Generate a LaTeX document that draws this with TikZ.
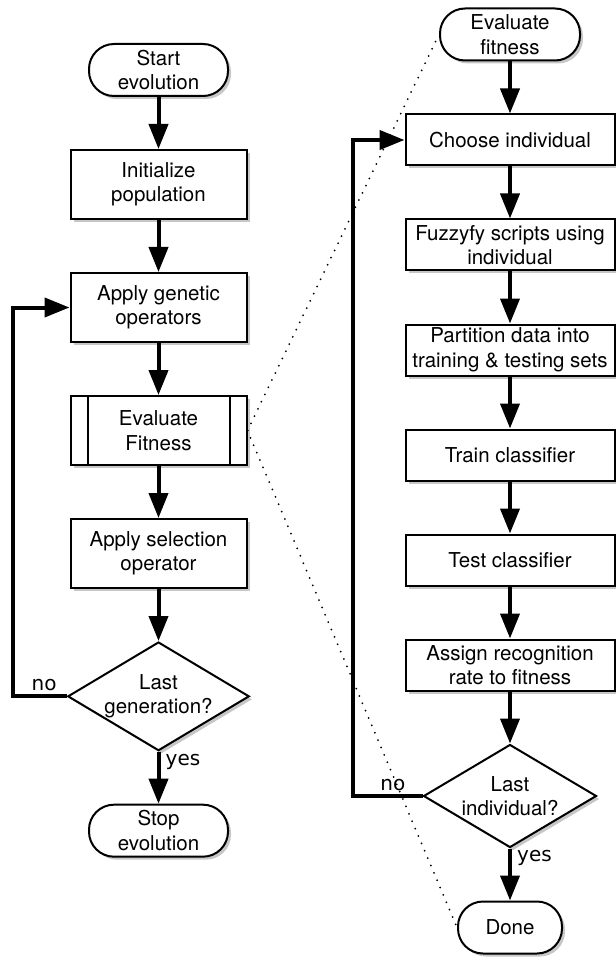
\documentclass[tikz,border=0pt]{standalone}
\usepackage{fontspec}
\setmainfont{TeX Gyre Heros}
\newfontfamily\labelfont{DejaVu Sans}
\usetikzlibrary{shapes.geometric,arrows.meta,positioning,calc,shadows}

\begin{document}
\begin{tikzpicture}[
            x=1pt, y=1pt,
            font=\fontsize{20.5}{24.5}\selectfont,
            boxshadow/.style={drop shadow={shadow xshift=3pt, shadow yshift=-3pt, opacity=0.22, fill=black}},
            procbox/.style={draw, rectangle, line width=2pt, fill=white, align=center, minimum width=176pt, minimum height=69pt, inner sep=2pt, boxshadow},
            stepbox/.style={draw, rectangle, line width=2pt, fill=white, align=center, minimum width=209pt, minimum height=51pt, inner sep=2pt, boxshadow},
            termbox/.style={draw, rectangle, rounded corners=25pt, line width=2pt, fill=white, align=center, minimum width=139pt, minimum height=52pt, inner sep=2pt, boxshadow},
            decbox/.style={draw, diamond, aspect=1.67, line width=2pt, fill=white, align=center, minimum width=173pt, minimum height=103pt, inner sep=0pt, boxshadow},
            flow/.style={-{Triangle[width=19pt,length=25pt]}, line width=4pt},
            detailline/.style={line width=2pt, dash pattern=on 0pt off 8pt, line cap=round},
            answer/.style={inner sep=0pt, font=\labelfont\fontsize{20}{24}\selectfont},
            node distance=52pt
        ]
            \useasboundingbox (0,0) rectangle (615,-957);

            % main loop
            \node[termbox] (start) at (158.5,-70) {Start\\evolution};
            \node[procbox, below=of start] (init) {Initialize\\population};
            \node[procbox, below=of init] (apply) {Apply genetic\\operators};
            \node[procbox, below=of apply] (evalG) {Evaluate\\Fitness};
            \node[procbox, below=of evalG] (select) {Apply selection\\operator};
            \node[decbox, below=of select] (diaG) {Last\\generation?};
            \node[termbox, below=of diaG] (stop) {Stop\\evolution};
            \draw[line width=2pt] ($(evalG.north west)+(18,0)$) -- ($(evalG.south west)+(18,0)$);
            \draw[line width=2pt] ($(evalG.north east)+(-18,0)$) -- ($(evalG.south east)+(-18,0)$);

            % fitness evaluation
            \node[termbox, minimum width=140pt] (evalR) at (510,-34.5) {Evaluate\\fitness};
            \node[stepbox, below=of evalR] (choose) {Choose individual};
            \node[stepbox, below=of choose] (fuzzy) {Fuzzyfy scripts using\\individual};
            \node[stepbox, below=of fuzzy] (part) {Partition data into\\training \& testing sets};
            \node[stepbox, below=of part] (train) {Train classifier};
            \node[stepbox, below=of train] (test) {Test classifier};
            \node[stepbox, below=of test] (assign) {Assign recognition\\rate to fitness};
            \node[decbox, below=of assign] (diaI) {Last\\individual?};
            \node[termbox, minimum width=104pt, below=of diaI] (done) {Done};

            \draw[detailline] (evalG.east) -- (evalR.west);
            \draw[detailline] (evalG.east) -- (done.west);

            \draw[flow] (start) -- (init);
            \draw[flow] (init) -- (apply);
            \draw[flow] (apply) -- (evalG);
            \draw[flow] (evalG) -- (select);
            \draw[flow] (select) -- (diaG);
            \draw[flow] (diaG) -- (stop);
            \draw[flow] (diaG.west) -- ++(-54,0) |- (apply.west);

            \draw[flow] (evalR) -- (choose);
            \draw[flow] (choose) -- (fuzzy);
            \draw[flow] (fuzzy) -- (part);
            \draw[flow] (part) -- (train);
            \draw[flow] (train) -- (test);
            \draw[flow] (test) -- (assign);
            \draw[flow] (assign) -- (diaI);
            \draw[flow] (diaI) -- (done);
            \draw[flow] (diaI.west) -- ++(-70,0) |- (choose.west);

            \node[answer, anchor=south east] (noG) at ($(diaG.west)+(-10,5)$) {no};
            \node[answer, anchor=north west] (yesG) at ($(diaG.south)+(7,-2)$) {yes};
            \node[answer, anchor=south east] (noI) at ($(diaI.west)+(-17,5)$) {no};
            \node[answer, anchor=north west] (yesI) at ($(diaI.south)+(7,-2)$) {yes};
        \end{tikzpicture}
\end{document}
